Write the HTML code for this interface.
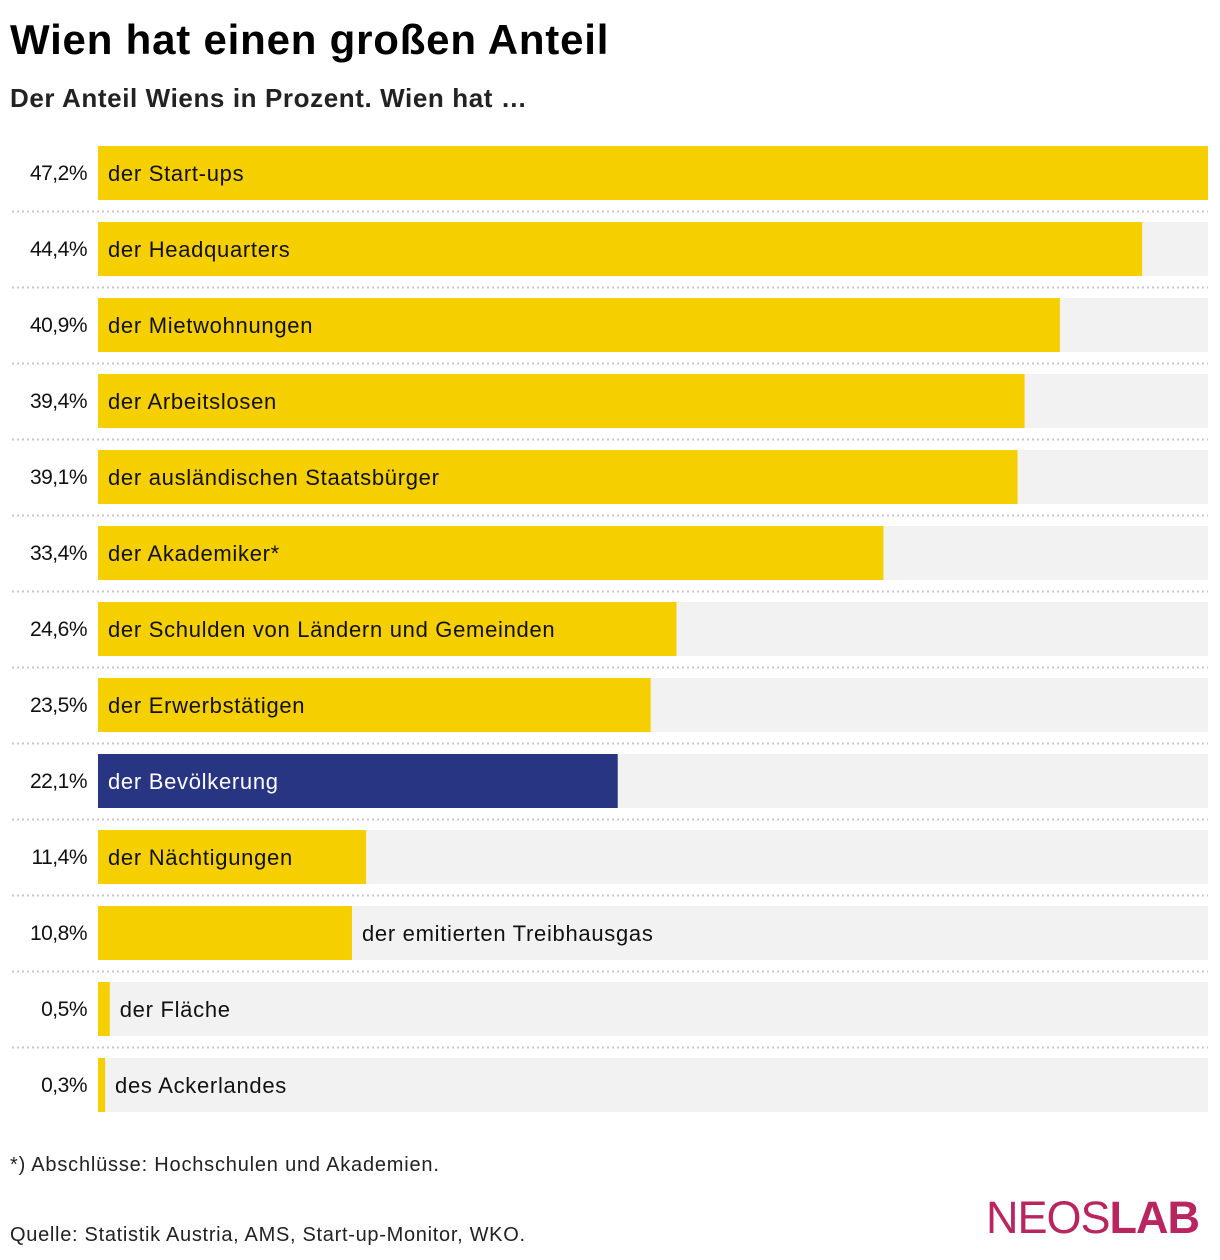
<!DOCTYPE html>
<html><head><meta charset="utf-8"><style>
body{margin:0;background:#fff;width:1220px;height:1260px;overflow:hidden;font-family:"Liberation Sans",sans-serif;color:#111}
#t{position:absolute;left:10px;top:16px;font-size:42px;font-weight:bold;letter-spacing:0.8px;color:#000}
#s{position:absolute;left:10px;top:83px;font-size:26px;font-weight:bold;color:#222;letter-spacing:0.6px}
#f{position:absolute;left:10px;top:1154px;font-size:20px;color:#222;letter-spacing:0.8px}
#q{position:absolute;left:10px;top:1224px;font-size:20px;color:#222;letter-spacing:0.7px}
#logo{position:absolute;left:986px;top:1192px;font-size:45px;color:#b8255f;letter-spacing:-1px}
svg{position:absolute;left:0;top:0}
</style></head><body>
<div id="t">Wien hat einen großen Anteil</div>
<div id="s">Der Anteil Wiens in Prozent. Wien hat …</div>
<svg id="c" width="1220" height="1130"></svg>
<div id="f">*) Abschlüsse: Hochschulen und Akademien.</div>
<div id="q">Quelle: Statistik Austria, AMS, Start-up-Monitor, WKO.</div>
<div id="logo">NEOS<b>LAB</b></div>
<script>
const categories=["der Start-ups","der Headquarters","der Mietwohnungen","der Arbeitslosen","der ausländischen Staatsbürger","der Akademiker*","der Schulden von Ländern und Gemeinden","der Erwerbstätigen","der Bevölkerung","der Nächtigungen","der emitierten Treibhausgas","der Fläche","des Ackerlandes"];
const values=[47.2,44.4,40.9,39.4,39.1,33.4,24.6,23.5,22.1,11.4,10.8,0.5,0.3];
const valueLabels=["47,2%","44,4%","40,9%","39,4%","39,1%","33,4%","24,6%","23,5%","22,1%","11,4%","10,8%","0,5%","0,3%"];
const highlight=[false,false,false,false,false,false,false,false,true,false,false,false,false];
const svg=document.getElementById('c');const NS='http://www.w3.org/2000/svg';
const x0=98,x1=1208,maxV=47.2;
const x=v=>x0+(x1-x0)*v/maxV;
const y=i=>146+i*76;
function mk(t,a){const e=document.createElementNS(NS,t);for(const k in a)e.setAttribute(k,a[k]);svg.appendChild(e);return e;}
categories.forEach((c,i)=>{
  const bg=mk('rect',{x:x0,y:y(i),width:x1-x0,height:54,fill:'#f2f2f2'});
  
  
  const b=mk('rect',{x:x0,y:y(i),width:x(values[i])-x0,height:54,fill:highlight[i]?'#283583':'#f5cf00'});
  
  
  const w=x(values[i])-x0;const inside=w>c.length*12+20;
  const lt=mk('text',{x:inside?x0+10:x(values[i])+10,y:y(i)+35,'font-size':22,'letter-spacing':'0.7',fill:highlight[i]?'#fff':'#111'});
  lt.textContent=c;
  
  
  const vt=mk('text',{x:87,y:y(i)+34,'font-size':21,'text-anchor':'end',fill:'#111','letter-spacing':'-0.5'});
  vt.textContent=valueLabels[i];
  
  
  if(i<categories.length-1){const l=mk('line',{x1:12,x2:x1,y1:y(i)+65.5,y2:y(i)+65.5,stroke:'#c8c8c8','stroke-width':2,'stroke-dasharray':'2 3'});
  
  }
});
</script>
</body></html>
